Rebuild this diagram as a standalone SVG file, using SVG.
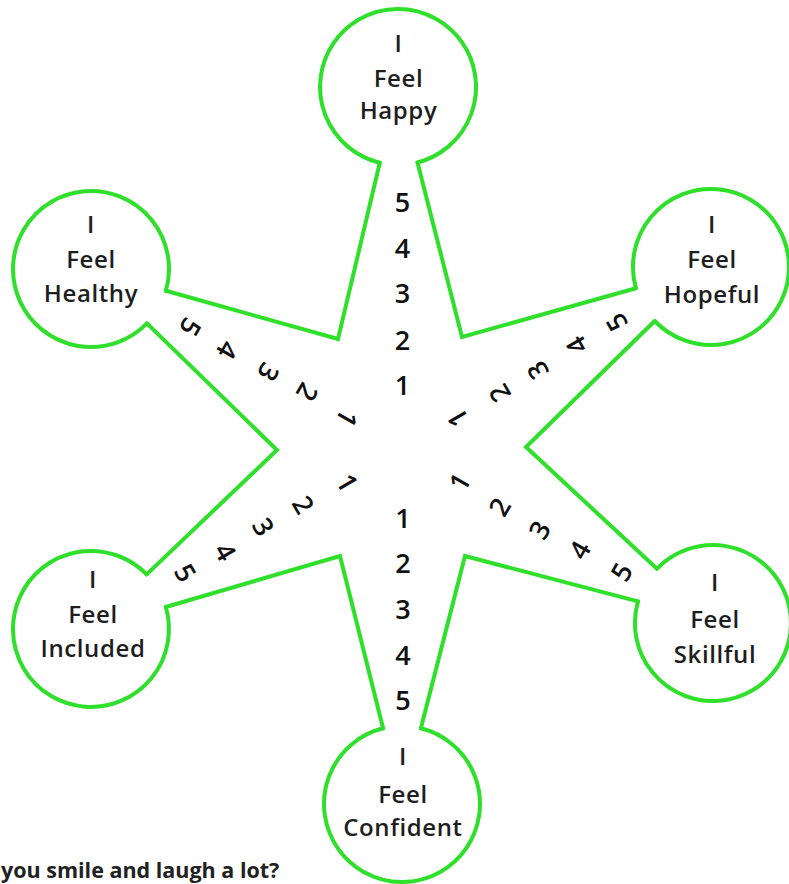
<svg xmlns="http://www.w3.org/2000/svg" width="789" height="884" viewBox="0 0 789 884">
<style>
.ol{fill:none;stroke:#2ee02a;stroke-width:4;stroke-linecap:round;stroke-linejoin:miter}
.lb{font-family:"Open Sans","DejaVu Sans",sans-serif;font-size:24px;font-weight:600;letter-spacing:0.6px;fill:#1e1e1e;text-anchor:middle}
.dg{font-family:"Open Sans","DejaVu Sans",sans-serif;font-size:27px;font-weight:600;fill:#111;text-anchor:middle}
.q{font-family:"Open Sans","DejaVu Sans",sans-serif;font-size:21.5px;font-weight:700;fill:#222}
</style>
<rect width="789" height="884" fill="#fff"/>
<g id="connectors">
<path class="ol" d="M417.5 162.5 L462 337 L635.9 288.2 M654.7 321 L526 447 L657 568.7 M638 601.4 L465 556 L420.9 728.3 M383.1 728.3 L340 556 L165.8 607 M146.7 574.4 L277 450 L146.9 323.4 M165.9 290.8 L338 339 L379.8 162.8"/>
</g>
<g id="node-happy">
<path class="ol" d="M379.8 162.8 A78 78 0 1 1 417.5 162.5"/>
<text class="lb" x="398.5" y="52">I</text>
<text class="lb" x="398.5" y="87">Feel</text>
<text class="lb" x="398.5" y="119">Happy</text>
</g>
<g id="node-healthy">
<path class="ol" d="M146.9 323.4 A78 78 0 1 1 165.9 290.8"/>
<text class="lb" x="91" y="233">I</text>
<text class="lb" x="91" y="268">Feel</text>
<text class="lb" x="91" y="302">Healthy</text>
</g>
<g id="node-hopeful">
<path class="ol" d="M635.9 288.2 A78 78 0 1 1 654.7 321"/>
<text class="lb" x="712" y="233">I</text>
<text class="lb" x="712" y="268">Feel</text>
<text class="lb" x="712" y="303">Hopeful</text>
</g>
<g id="node-included">
<path class="ol" d="M165.8 607 A78 78 0 1 1 146.7 574.4"/>
<text class="lb" x="93" y="588">I</text>
<text class="lb" x="93" y="623">Feel</text>
<text class="lb" x="93" y="657">Included</text>
</g>
<g id="node-skillful">
<path class="ol" d="M657 568.7 A78 78 0 1 1 638 601.4"/>
<text class="lb" x="715" y="591">I</text>
<text class="lb" x="715" y="628">Feel</text>
<text class="lb" x="715" y="663">Skillful</text>
</g>
<g id="node-confident">
<path class="ol" d="M420.9 728.3 A78 78 0 1 1 383.1 728.3"/>
<text class="lb" x="403" y="765">I</text>
<text class="lb" x="403" y="803">Feel</text>
<text class="lb" x="403" y="836">Confident</text>
</g>
<g id="scale-happy">
<text class="dg" x="402.5" y="212">5</text>
<text class="dg" x="402.5" y="258">4</text>
<text class="dg" x="402.5" y="303">3</text>
<text class="dg" x="402.5" y="350">2</text>
<text class="dg" x="402.5" y="395">1</text>
</g>
<g id="scale-confident">
<text class="dg" x="403" y="528">1</text>
<text class="dg" x="403" y="573">2</text>
<text class="dg" x="403" y="619">3</text>
<text class="dg" x="403" y="665">4</text>
<text class="dg" x="403" y="710">5</text>
</g>
<g id="scale-healthy">
<text class="dg" x="190" y="336.5" transform="rotate(120 190 327)">5</text>
<text class="dg" x="227" y="359.5" transform="rotate(120 227 350)">4</text>
<text class="dg" x="268" y="381.5" transform="rotate(120 268 372)">3</text>
<text class="dg" x="307" y="401.5" transform="rotate(120 307 392)">2</text>
<text class="dg" x="347" y="427.5" transform="rotate(120 347 418)">1</text>
</g>
<g id="scale-hopeful">
<text class="dg" x="458" y="427.5" transform="rotate(-120 458 418)">1</text>
<text class="dg" x="500" y="402.5" transform="rotate(-120 500 393)">2</text>
<text class="dg" x="538" y="379.5" transform="rotate(-120 538 370)">3</text>
<text class="dg" x="577" y="354.5" transform="rotate(-120 577 345)">4</text>
<text class="dg" x="617" y="331.5" transform="rotate(-120 617 322)">5</text>
</g>
<g id="scale-included">
<text class="dg" x="347" y="492.5" transform="rotate(60 347 483)">1</text>
<text class="dg" x="303" y="514.5" transform="rotate(60 303 505)">2</text>
<text class="dg" x="263" y="536.5" transform="rotate(60 263 527)">3</text>
<text class="dg" x="225" y="561.5" transform="rotate(60 225 552)">4</text>
<text class="dg" x="185" y="582.5" transform="rotate(60 185 573)">5</text>
</g>
<g id="scale-skillful">
<text class="dg" x="460" y="491.5" transform="rotate(-60 460 482)">1</text>
<text class="dg" x="500" y="516.5" transform="rotate(-60 500 507)">2</text>
<text class="dg" x="540" y="539.5" transform="rotate(-60 540 530)">3</text>
<text class="dg" x="580" y="559.5" transform="rotate(-60 580 550)">4</text>
<text class="dg" x="622" y="581.5" transform="rotate(-60 622 572)">5</text>
</g>
<text class="q" x="1" y="878">you smile and laugh a lot?</text>
</svg>
